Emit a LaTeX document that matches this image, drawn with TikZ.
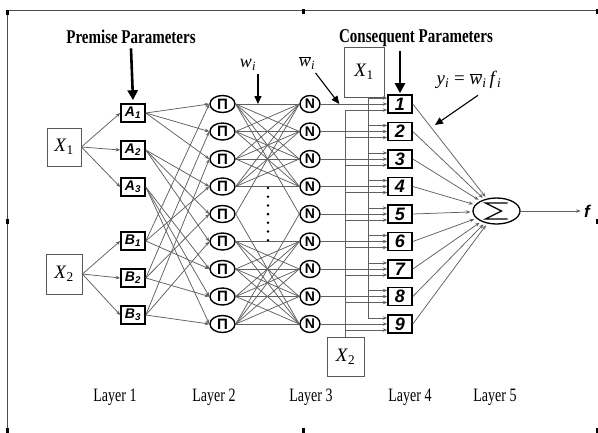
\documentclass[tikz,border=0pt]{standalone}
\usepackage{fontspec}
\setmainfont{Liberation Serif}
\setsansfont{Liberation Sans}
\usetikzlibrary{arrows.meta,shapes.geometric,calc}

\tikzset{
  wire/.style={draw=gray!75!black, line width=0.75pt},
  arr/.style={-{Stealth[length=4.5pt,width=3.5pt]}},
  inbox/.style={draw=gray!70!black, line width=0.8pt, inner sep=0pt, font=\fontsize{19}{19}\selectfont},
  mfbox/.style={draw, line width=1.6pt, minimum width=24pt, minimum height=18pt, inner sep=0pt, font=\sffamily\bfseries\itshape\fontsize{14}{14}\selectfont},
  rulebox/.style={mfbox, font=\sffamily\bfseries\itshape\fontsize{18}{18}\selectfont},
  prodnode/.style={draw, ellipse, line width=1.4pt, minimum width=25pt, minimum height=17pt, inner sep=0pt, font=\sffamily\bfseries\fontsize{15}{15}\selectfont},
  normnode/.style={prodnode, minimum width=20pt, font=\sffamily\bfseries\fontsize{14}{14}\selectfont},
  bigarrow/.style={line width=2.6pt, -{Triangle[length=10pt,width=10pt]}},
  ptr/.style={line width=1.1pt, -{Triangle[length=8pt,width=7pt]}},
  heading/.style={font=\bfseries\fontsize{15}{15}\selectfont, yscale=1.3},
  layer/.style={font=\fontsize{14}{14}\selectfont, yscale=1.35},
}

\begin{document}
\begin{tikzpicture}[x=1pt,y=-1pt]
  \useasboundingbox (0,0) rectangle (598,432);
  % frame and handles
  \draw[gray!60!black, line width=1pt] (7,430) -- (7,10) -- (597,10);
  \foreach \hx/\hy in {7/12,303/11,597/11,7/221,597/221,7/430,303/430,597/430}
    \fill (\hx-1.5,\hy-2.5) rectangle (\hx+1.5,\hy+2.5);

  % inputs
  \node[inbox, minimum width=34pt, minimum height=38pt] (x1) at (64,147) {\textit{X}\textsubscript{1}};
  \node[inbox, minimum width=36pt, minimum height=40pt] (x2) at (64,274) {\textit{X}\textsubscript{2}};

  % layer 1
  \foreach \i/\yy in {1/113,2/150,3/187} {
    \node[mfbox] (A\i) at (133,\yy) {A\textsubscript{\i}};
    \draw[wire,arr] (x1.east) -- (A\i.west);
  }
  \foreach \i/\yy in {1/241,2/278,3/315} {
    \node[mfbox] (B\i) at (133,\yy) {B\textsubscript{\i}};
    \draw[wire,arr] (x2.east) -- (B\i.west);
  }

  % layers 2, 3, 4
  \foreach \k in {1,...,9} {
    \pgfmathsetmacro\yy{104+27.5*(\k-1)}
    \node[prodnode] (P\k) at (222.5,\yy) {Π};
    \node[normnode] (N\k) at (310,\yy) {N};
    \node[rulebox] (R\k) at (400,\yy) {\k};
  }

  \foreach \i in {1,2,3} \foreach \j in {1,2,3} {
    \pgfmathtruncatemacro\ka{3*(\i-1)+\j}
    \pgfmathtruncatemacro\kb{3*(\j-1)+\i}
    \draw[wire,arr] (A\i.east) -- (P\ka.west);
    \draw[wire,arr] (B\i.east) -- (P\kb.west);
  }

  \foreach \i in {1,...,4} \foreach \j in {1,...,4}
    \draw[wire] (P\i.east) -- (N\j.west);
  \foreach \i in {6,...,9} \foreach \j in {6,...,9}
    \draw[wire] (P\i.east) -- (N\j.west);
  \foreach \i/\j in {5/1,1/5,5/9,9/5}
    \draw[wire] (P\i.east) -- (N\j.west);

  \foreach \d in {0,...,6}
    \fill (268,188+8.7*\d) circle (1.4pt);

  % consequent inputs
  \node[inbox, minimum width=40pt, minimum height=50pt] (c1) at (364,72) {\textit{X}\textsubscript{1}};
  \node[inbox, minimum width=37pt, minimum height=39pt] (c2) at (345.5,356.5) {\textit{X}\textsubscript{2}};
  \coordinate (bus1) at ([xshift=4pt]c1.south);
  \coordinate (bus2) at (c2.north);
  \foreach \k in {1,...,9} {
    \coordinate (u\k) at ([yshift=6pt]R\k.west);
    \coordinate (d\k) at ([yshift=-6pt]R\k.west);
  }
  \draw[wire] (bus1) -- (u9 -| bus1);
  \draw[wire] (bus2) -- (d1 -| bus2);
  \foreach \k in {1,...,9} {
    \draw[wire,arr] (N\k.east) -- (R\k.west);
    \draw[wire,arr] (u\k -| bus1) -- (u\k);
    \draw[wire,arr] (d\k -| bus2) -- (d\k);
  }

  % layer 5
  \node[draw, ellipse, line width=1.3pt, minimum width=47pt, minimum height=26pt] (sum) at (496.5,211) {};
  \draw[line width=1.2pt, line join=miter] ([shift={(11pt,8pt)}]sum.center) -- ++(-22pt,0pt) -- ++(16pt,-8pt) -- ++(-16pt,-8pt) -- ++(22pt,0pt);
  \foreach \k in {1,...,9}
    \draw[wire,arr,shorten >=2pt] (R\k.east) -- (sum);
  \node[font=\sffamily\bfseries\itshape\fontsize{17}{17}\selectfont] (fout) at (587,211) {f};
  \draw[wire,arr] (sum.east) -- (fout.west);

  % parameters
  \node[heading] (prem) at (131,37) {Premise Parameters};
  \draw[bigarrow] (prem.south) -- ([yshift=3pt]A1.north);
  \node[heading] (cons) at (416,38) {Consequent Parameters};
  \draw[bigarrow] (cons.south -| R1.north) -- ([yshift=1pt]R1.north);

  % weights
  \node[font=\fontsize{18}{18}\selectfont] (wlab) at (248,65) {\textit{w}\textsubscript{\textit{i}}};
  \coordinate (wpt) at ($(P1.east)!0.35!(N1.west)$);
  \draw[ptr] (wpt |- wlab.south) -- (wpt);
  \node[font=\fontsize{18}{18}\selectfont] (wnlab) at (307,63) {$\overline{\textit{w}}$\textsubscript{\textit{i}}};
  \coordinate (wnpt) at ($(N1.east)!0.28!(R1.west)$);
  \draw[ptr] ([xshift=-3pt]wnlab.south east) -- (wnpt);
  \node[font=\fontsize{19}{19}\selectfont] (ylab) at (469,80) {\textit{y}\textsubscript{\textit{i}} = $\overline{\textit{w}}$\textsubscript{\textit{i}}\,\textit{f}\textsubscript{\textit{i}}};
  \coordinate (ypt) at (435,125);
  \draw[ptr] ($(ylab.south)+(9,3)$) -- (ypt);

  % layer labels
  \foreach \lnum/\xx in {1/115,2/214,3/311,4/410,5/495}
    \node[layer] (L\lnum) at (\xx,397) {Layer \lnum};
\end{tikzpicture}
\end{document}
